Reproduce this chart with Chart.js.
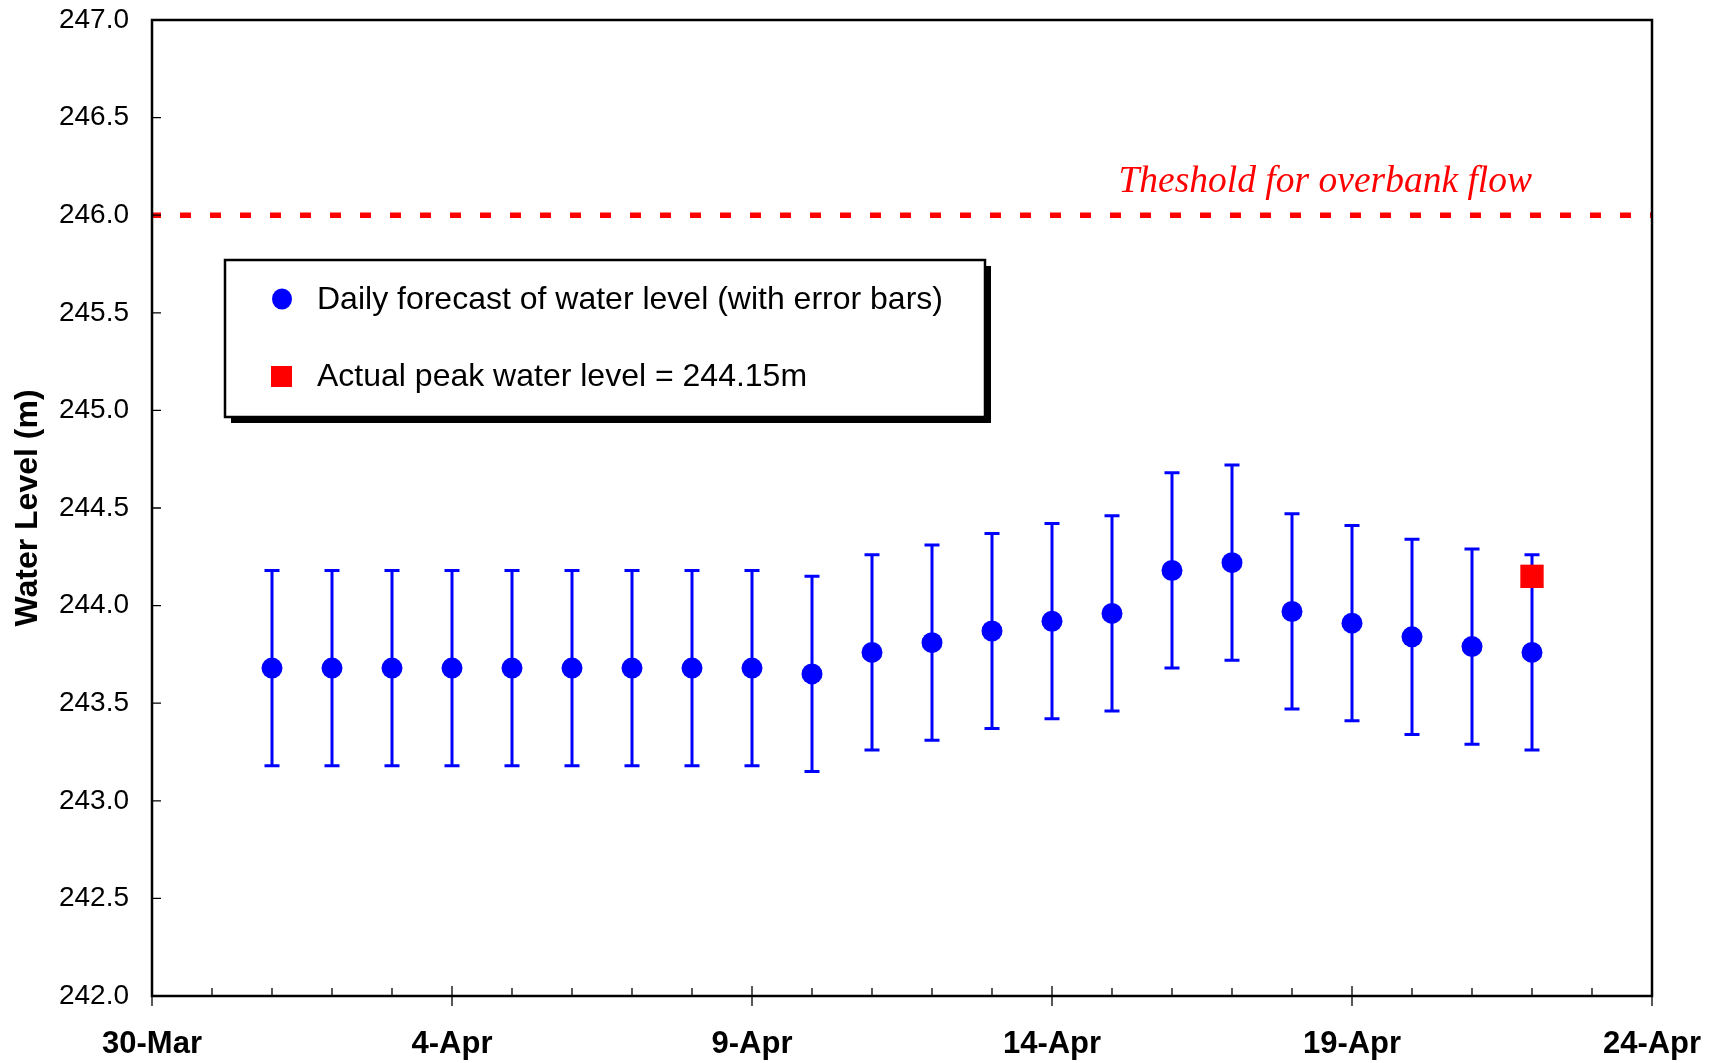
<!DOCTYPE html>
<html>
<head>
<meta charset="utf-8">
<script src="https://cdn.jsdelivr.net/npm/chart.js@4.4.1/dist/chart.umd.min.js"></script>
<style>
  html, body { margin:0; padding:0; background:#fff; }
  #wrap { width:1719px; height:1063px; }
</style>
</head>
<body>
<div id="wrap"><canvas id="levelChart" width="1719" height="1063"></canvas></div>
<script>
// x values are days counted from 30-Mar
const forecastDays  = [2,3,4,5,6,7,8,9,10,11,12,13,14,15,16,17,18,19,20,21,22,23];
const forecastLevel = [243.68,243.68,243.68,243.68,243.68,243.68,243.68,243.68,243.68,243.65,243.76,
                       243.81,243.87,243.92,243.96,244.18,244.22,243.97,243.91,243.84,243.79,243.76];
const forecastError = [0.5,0.5,0.5,0.5,0.5,0.5,0.5,0.5,0.5,0.5,0.5,0.5,0.5,0.5,0.5,0.5,0.5,0.5,0.5,0.5,0.5,0.5];
const peakDays  = [23];
const peakLevel = [244.15];
const thresholdDays  = [0, 25];
const thresholdLevel = [246.0, 246.0];
const xTickLabels = ['30-Mar','4-Apr','9-Apr','14-Apr','19-Apr','24-Apr'];

const SANS = '"Liberation Sans", Arial, sans-serif';
const SERIF = '"Liberation Serif", "Times New Roman", serif';
Chart.defaults.color = '#000';

const decor = {
  id: 'decor',
  beforeDatasetsDraw(chart) {
    const {ctx, scales: {x, y}} = chart;
    ctx.save();
    ctx.strokeStyle = '#0000ff';
    ctx.lineWidth = 3;
    forecastDays.forEach((d, i) => {
      const px = x.getPixelForValue(d);
      const top = y.getPixelForValue(forecastLevel[i] + forecastError[i]);
      const bot = y.getPixelForValue(forecastLevel[i] - forecastError[i]);
      ctx.beginPath();
      ctx.moveTo(px, top); ctx.lineTo(px, bot);
      ctx.moveTo(px - 7.5, top); ctx.lineTo(px + 7.5, top);
      ctx.moveTo(px - 7.5, bot); ctx.lineTo(px + 7.5, bot);
      ctx.stroke();
    });
    ctx.restore();
  },
  afterDraw(chart) {
    const {ctx, chartArea: a, scales: {x, y}} = chart;
    ctx.save();
    // frame
    ctx.strokeStyle = '#000';
    ctx.lineWidth = 2.5;
    ctx.strokeRect(a.left, a.top, a.right - a.left, a.bottom - a.top);
    // y ticks (inside)
    ctx.lineWidth = 1.3;
    ctx.beginPath();
    for (let v = 242; v <= 247.001; v += 0.5) {
      const py = y.getPixelForValue(v);
      ctx.moveTo(a.left, py); ctx.lineTo(a.left + 9, py);
    }
    // x ticks: major cross the axis, minor inside
    for (let d = 0; d <= 25; d++) {
      const px = x.getPixelForValue(d);
      if (d % 5 === 0) { ctx.moveTo(px, a.bottom - 10); ctx.lineTo(px, a.bottom + 10); }
      else { ctx.moveTo(px, a.bottom - 8); ctx.lineTo(px, a.bottom); }
    }
    ctx.stroke();

    // threshold label
    ctx.fillStyle = '#ff0000';
    ctx.font = 'italic 37.5px ' + SERIF;
    ctx.textAlign = 'right';
    ctx.textBaseline = 'alphabetic';
    ctx.fillText('Theshold for overbank flow', x.getPixelForValue(23), y.getPixelForValue(thresholdLevel[0]) - 23.5);

    // legend box with shadow
    const L = 225, T = 260, W = 760, H = 157;
    ctx.fillStyle = '#000';
    ctx.fillRect(L + 6, T + 6, W, H);
    ctx.fillStyle = '#fff';
    ctx.fillRect(L, T, W, H);
    ctx.lineWidth = 2.5;
    ctx.strokeRect(L, T, W, H);

    ctx.fillStyle = '#0000ff';
    ctx.beginPath();
    ctx.ellipse(282, 299, 10, 10.5, 0, 0, Math.PI * 2);
    ctx.fill();
    ctx.fillStyle = '#ff0000';
    ctx.fillRect(271, 366, 21, 21);

    ctx.fillStyle = '#000';
    ctx.font = '32px ' + SANS;
    ctx.textAlign = 'left';
    ctx.textBaseline = 'middle';
    ctx.fillText('Daily forecast of water level (with error bars)', 317, 300);
    ctx.fillText('Actual peak water level = 244.15m', 317, 377);
    ctx.restore();
  }
};

new Chart(document.getElementById('levelChart'), {
  type: 'scatter',
  data: {
    datasets: [
      {
        label: 'Theshold for overbank flow',
        data: thresholdDays.map((d, i) => ({x: d, y: thresholdLevel[i]})),
        showLine: true, borderColor: '#ff0000', borderWidth: 5.5,
        borderDash: [11, 19], borderDashOffset: 2, borderCapStyle: 'butt', pointRadius: 0,
        clip: 4
      },
      {
        label: 'Daily forecast of water level (with error bars)',
        data: forecastDays.map((d, i) => ({x: d, y: forecastLevel[i]})),
        backgroundColor: '#0000ff', borderColor: '#0000ff', pointRadius: 10.5, pointBorderWidth: 0
      },
      {
        label: 'Actual peak water level = 244.15m',
        data: peakDays.map((d, i) => ({x: d, y: peakLevel[i]})),
        pointStyle: 'rect', backgroundColor: '#ff0000', borderColor: '#ff0000', pointRadius: 16.5, pointBorderWidth: 0
      }
    ]
  },
  options: {
    responsive: false, animation: false,
    layout: { padding: { left: 9, top: 20, right: 67, bottom: 0 } },
    plugins: { legend: { display: false }, tooltip: { enabled: false } },
    scales: {
      x: {
        type: 'linear', min: 0, max: 25,
        grid: { display: false, drawTicks: false }, border: { display: false },
        ticks: {
          stepSize: 5, autoSkip: false, maxRotation: 0, padding: 30,
          font: { family: SANS, size: 31, weight: 'bold' },
          callback: (v, i) => xTickLabels[i]
        },
        afterFit: s => { s.height = 67; s.paddingLeft = 0; s.paddingRight = 0; }
      },
      y: {
        min: 242, max: 247,
        grid: { display: false, drawTicks: false }, border: { display: false },
        ticks: {
          stepSize: 0.5, padding: 23,
          font: { family: SANS, size: 28 },
          callback: v => v.toFixed(1)
        },
        title: {
          display: true, text: 'Water Level (m)', padding: { top: 0, bottom: 0 },
          font: { family: SANS, size: 32, weight: 'bold' }
        },
        afterFit: s => { s.width = 143; s.paddingTop = 0; s.paddingBottom = 0; }
      }
    }
  },
  plugins: [decor]
});
</script>
</body>
</html>
